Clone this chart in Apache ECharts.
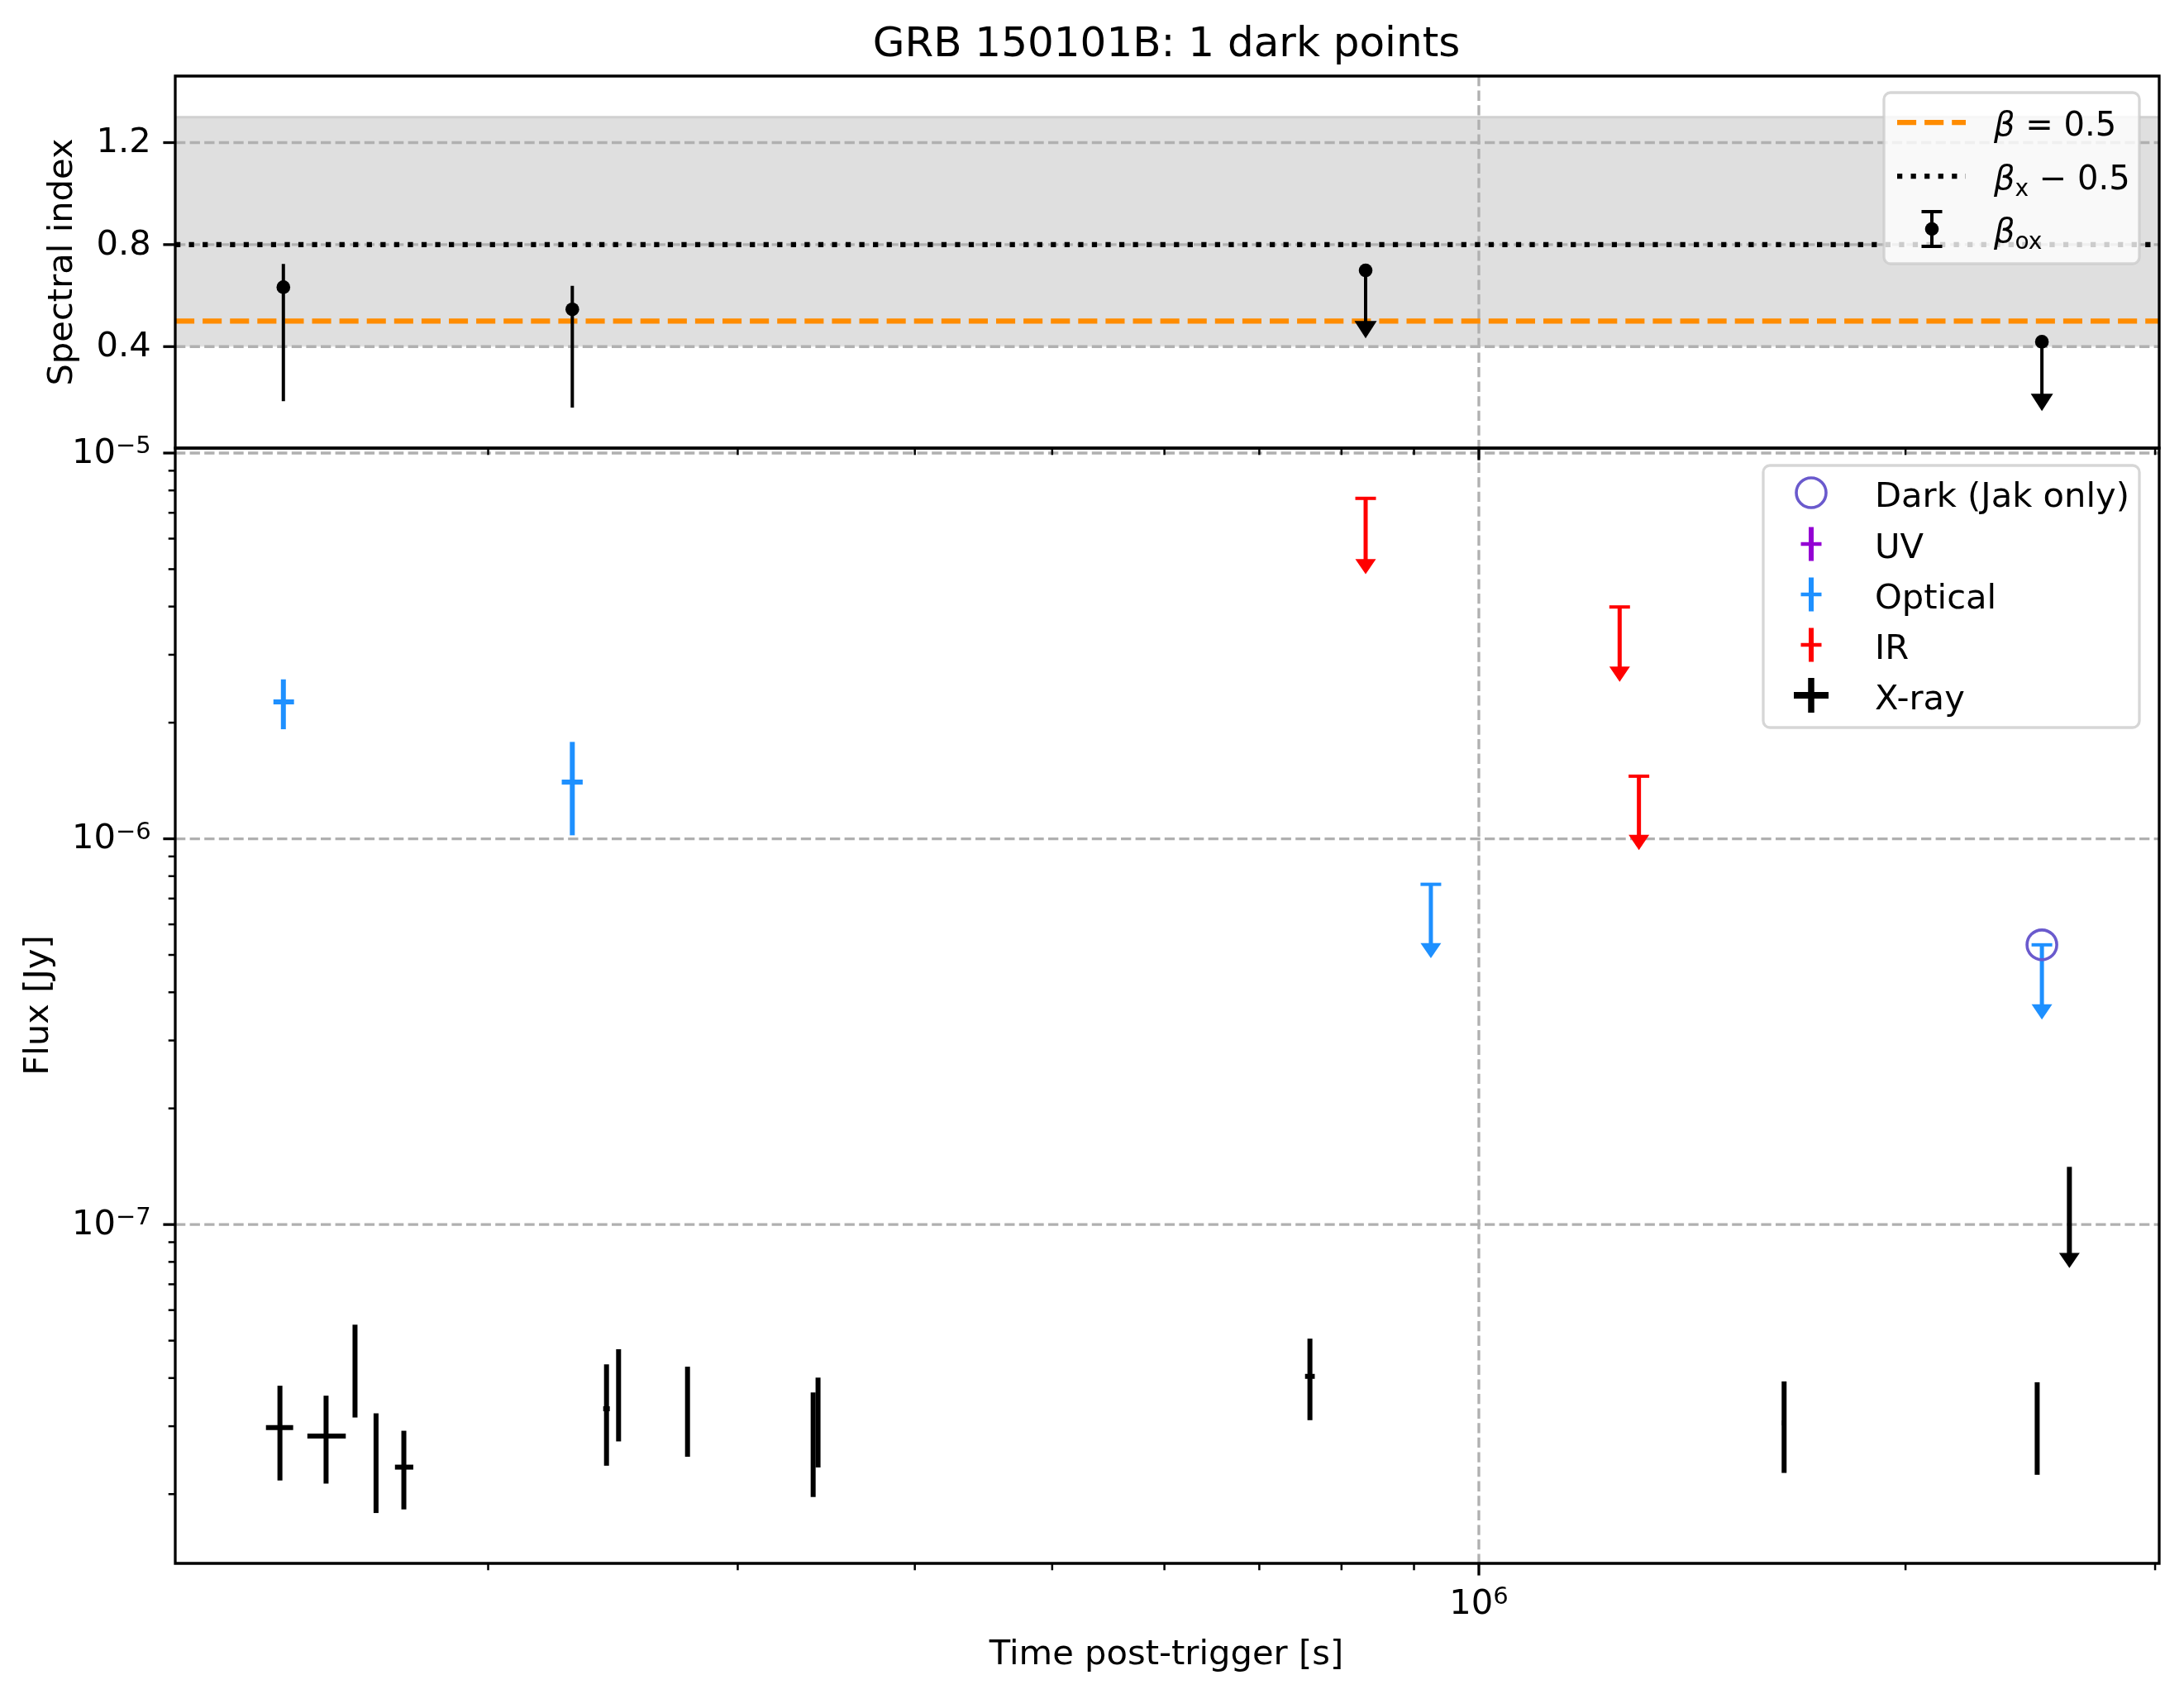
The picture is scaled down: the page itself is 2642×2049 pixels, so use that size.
<!DOCTYPE html>
<html><head><meta charset="utf-8">
<script src="https://cdn.jsdelivr.net/npm/echarts@6/dist/echarts.min.js"></script>
<style>html,body{margin:0;padding:0;background:#fff}#chart{width:2642px;height:2049px}</style>
</head><body><div id="chart"></div>
<script>
// ---------------- data ----------------
const titleText = 'GRB 150101B: 1 dark points';
const timeRange = [1.203e5, 3.02e6];
const spectralRange = [0.002, 1.461];
const fluxRange = [1.323e-8, 1.03e-5];

const timeMajorTicks = [1e6];
const timeTickBases = ['10'];
const timeTickExps = ['6'];
const timeMinorTicks = [2e5, 3e5, 4e5, 5e5, 6e5, 7e5, 8e5, 9e5, 2e6, 3e6];
const spectralTicks = [0.4, 0.8, 1.2];
const spectralTickLabels = ['0.4', '0.8', '1.2'];
const fluxMajorTicks = [1e-7, 1e-6, 1e-5];
const fluxTickBases = ['10', '10', '10'];
const fluxTickExps = ['\u22127', '\u22126', '\u22125'];
const fluxMinorTicks = [2e-8, 3e-8, 4e-8, 5e-8, 6e-8, 7e-8, 8e-8, 9e-8,
                        2e-7, 3e-7, 4e-7, 5e-7, 6e-7, 7e-7, 8e-7, 9e-7,
                        2e-6, 3e-6, 4e-6, 5e-6, 6e-6, 7e-6, 8e-6, 9e-6];

// spectral index panel
const betaRef = 0.5;
const betaXMinusHalf = 0.8;
const betaBand = [0.4, 1.3];
const betaOxTimes = [1.434e5, 2.293e5];
const betaOxValues = [0.633, 0.546];
const betaOxLower = [0.186, 0.161];
const betaOxUpper = [0.724, 0.638];
const betaOxLimTimes = [8.32e5, 2.496e6];
const betaOxLimValues = [0.699, 0.419];
const betaOxLimTips = [0.432, 0.147];

// flux panel: optical detections
const optTimes = [1.434e5, 2.293e5];
const optTimeLo = [1.411e5, 2.254e5];
const optTimeHi = [1.459e5, 2.332e5];
const optFlux = [2.264e-6, 1.403e-6];
const optFluxLo = [1.923e-6, 1.021e-6];
const optFluxHi = [2.59e-6, 1.783e-6];
// optical upper limits
const optLimTimes = [9.25e5, 2.496e6];
const optLimValues = [7.62e-7, 5.31e-7];
const optLimTips = [4.9e-7, 3.40e-7];
// IR upper limits
const irLimTimes = [8.32e5, 1.257e6, 1.297e6];
const irLimValues = [7.63e-6, 3.99e-6, 1.453e-6];
const irLimTips = [4.85e-6, 2.553e-6, 9.35e-7];
// X-ray detections
const xrTimes  = [1.426e5, 1.537e5, 1.611e5, 1.667e5, 1.744e5, 2.424e5, 2.472e5, 2.765e5, 3.391e5, 3.418e5, 7.60e5, 1.642e6, 2.477e6];
const xrTimeLo = [1.394e5, 1.491e5, 1.609e5, 1.664e5, 1.719e5, 2.411e5, 2.470e5, 2.763e5, 3.389e5, 3.410e5, 7.54e5, 1.636e6, 2.475e6];
const xrTimeHi = [1.457e5, 1.587e5, 1.613e5, 1.670e5, 1.771e5, 2.437e5, 2.474e5, 2.767e5, 3.393e5, 3.426e5, 7.66e5, 1.648e6, 2.479e6];
const xrFlux   = [2.975e-8, 2.83e-8, 4.0e-8, 2.49e-8, 2.35e-8, 3.33e-8, 3.6e-8, 3.27e-8, 2.7e-8, 3.16e-8, 4.04e-8, 3.06e-8, 2.96e-8];
const xrFluxLo = [2.17e-8, 2.13e-8, 3.16e-8, 1.787e-8, 1.826e-8, 2.37e-8, 2.74e-8, 2.50e-8, 1.966e-8, 2.345e-8, 3.11e-8, 2.27e-8, 2.245e-8];
const xrFluxHi = [3.82e-8, 3.60e-8, 5.50e-8, 3.24e-8, 2.92e-8, 4.34e-8, 4.75e-8, 4.28e-8, 3.67e-8, 4.01e-8, 5.06e-8, 3.92e-8, 3.90e-8];
// X-ray upper limit
const xrLimTimes = [2.61e6];
const xrLimValues = [1.411e-7];
const xrLimTips = [7.71e-8];
// dark point
const darkTimes = [2.496e6];
const darkFlux = [5.31e-7];

const legendBottomLabels = ['Dark (Jak only)', 'UV', 'Optical', 'IR', 'X-ray'];
const xAxisLabel = 'Time post-trigger [s]';
const fluxAxisLabel = 'Flux [Jy]';
const spectralAxisLabel = 'Spectral index';

// ---------------- styling ----------------
const FONT = 'DejaVu Sans';
const FS = 41.67;
const TY = 6; // text vertical nudge
const C_OPT = '#1E90FF', C_IR = '#FF0000', C_UV = '#9400D3', C_DARK = '#6A5ACD', C_ORANGE = '#FF8C00';
const GRID_STYLE = {stroke: '#b0b0b0', lineWidth: 3.3, lineDash: [12.3, 5.3]};
const TMAJ = 14.6, TMIN = 8.3, PAD = 14.6;

function ln(x1, y1, x2, y2, stroke, lw, dash) {
  return {type: 'line', shape: {x1, y1, x2, y2}, style: {stroke, lineWidth: lw, lineDash: dash || null, fill: null}};
}
const supRich = {
  b: {fontSize: FS, fontFamily: FONT, fill: '#000', lineHeight: 46},
  s: {fontSize: 29, fontFamily: FONT, fill: '#000', lineHeight: 22, verticalAlign: 'top'}
};
function txt(x, y, text, align, vAlign, rich) {
  const st = {text, fontSize: FS, fontFamily: FONT, fill: '#000', align, verticalAlign: vAlign};
  if (rich) st.rich = rich;
  return {type: 'text', x, y, style: st};
}

// ---- renderers ----
function errBarRenderer(color, lw) {
  return function (params, api) {
    const c = api.coord([api.value(0), api.value(1)]);
    const lo = api.coord([api.value(2), api.value(4)]);
    const hi = api.coord([api.value(3), api.value(5)]);
    return {type: 'group', children: [
      ln(c[0], hi[1], c[0], lo[1], color, lw),
      ln(lo[0], c[1], hi[0], c[1], color, lw)
    ]};
  };
}
function limitRenderer(color, lw, capHalf, aw, ah, dotR) {
  return function (params, api) {
    const top = api.coord([api.value(0), api.value(1)]);
    const tip = api.coord([api.value(0), api.value(2)]);
    const x = top[0];
    const ch = [ln(x, top[1], x, tip[1] - ah + 1, color, lw)];
    ch.push({type: 'polygon', shape: {points: [[x - aw / 2, tip[1] - ah], [x + aw / 2, tip[1] - ah], [x, tip[1]]]}, style: {fill: color}});
    if (capHalf) ch.push(ln(x - capHalf, top[1], x + capHalf, top[1], color, 4));
    if (dotR) ch.push({type: 'circle', shape: {cx: x, cy: top[1], r: dotR}, style: {fill: color}});
    return {type: 'group', children: ch};
  };
}
function betaDetRenderer(params, api) {
  const c = api.coord([api.value(0), api.value(1)]);
  const lo = api.coord([api.value(0), api.value(2)]);
  const hi = api.coord([api.value(0), api.value(3)]);
  return {type: 'group', children: [
    ln(c[0], hi[1], c[0], lo[1], '#000', 4),
    {type: 'circle', shape: {cx: c[0], cy: c[1], r: 8.3}, style: {fill: '#000'}}
  ]};
}
function hLineRenderer(style) {
  return function (params, api) {
    const cs = params.coordSys;
    const p = api.coord([api.value(0), api.value(1)]);
    return {type: 'line', shape: {x1: cs.x, y1: p[1], x2: cs.x + cs.width, y2: p[1]}, style: Object.assign({fill: null}, style)};
  };
}
function vLineRenderer(style) {
  return function (params, api) {
    const cs = params.coordSys;
    const p = api.coord([api.value(0), api.value(1)]);
    return {type: 'line', shape: {x1: p[0], y1: cs.y, x2: p[0], y2: cs.y + cs.height}, style: Object.assign({fill: null}, style)};
  };
}
function bandRenderer(params, api) {
  const cs = params.coordSys;
  const lo = api.coord([api.value(0), api.value(1)]);
  const hi = api.coord([api.value(0), api.value(2)]);
  return {type: 'group', children: [
    {type: 'rect', shape: {x: cs.x, y: hi[1], width: cs.width, height: lo[1] - hi[1]}, style: {fill: '#dfdfdf'}},
    ln(cs.x, hi[1], cs.x + cs.width, hi[1], '#d0d0d0', 3)
  ]};
}
function decorRenderer(yRef, yMajor, yMinor, yLabelFn, showXLabels) {
  return function (params, api) {
    const cs = params.coordSys;
    const bottom = cs.y + cs.height;
    const ch = [];
    timeMinorTicks.forEach(t => {
      const x = api.coord([t, yRef])[0];
      ch.push(ln(x, bottom, x, bottom + TMIN, '#000', 2.5));
    });
    timeMajorTicks.forEach((t, i) => {
      const x = api.coord([t, yRef])[0];
      ch.push(ln(x, bottom, x, bottom + TMAJ, '#000', 3.3));
      if (showXLabels) ch.push(txt(x, bottom + 50, '{b|' + timeTickBases[i] + '}{s|' + timeTickExps[i] + '}', 'center', 'middle', supRich));
    });
    yMinor.forEach(v => {
      const y = api.coord([1e6, v])[1];
      ch.push(ln(cs.x - TMIN, y, cs.x, y, '#000', 2.5));
    });
    yMajor.forEach((v, i) => {
      const y = api.coord([1e6, v])[1];
      ch.push(ln(cs.x - TMAJ, y, cs.x, y, '#000', 3.3));
      const lab = yLabelFn(i);
      ch.push(txt(cs.x - TMAJ - PAD, y + 1, lab.text, 'right', 'middle', lab.rich));
    });
    ch.push({type: 'rect', shape: {x: cs.x, y: cs.y, width: cs.width, height: cs.height}, style: {fill: null, stroke: '#000', lineWidth: 3.3}});
    return {type: 'group', children: ch};
  };
}

// ---------------- series ----------------
const series = [];
const T = (xi, yi) => ({xAxisIndex: xi, yAxisIndex: yi, coordinateSystem: 'cartesian2d', type: 'custom', silent: true});

// top panel
series.push(Object.assign(T(0, 0), {z: 1, data: [[1e6, betaBand[0], betaBand[1]]], renderItem: bandRenderer}));
series.push(Object.assign(T(0, 0), {z: 2, data: spectralTicks.map(v => [1e6, v]), renderItem: hLineRenderer(GRID_STYLE)}));
series.push(Object.assign(T(0, 0), {z: 2, data: timeMajorTicks.map(t => [t, 0.8]), renderItem: vLineRenderer(GRID_STYLE)}));
series.push(Object.assign(T(0, 0), {z: 3, data: [[1e6, betaRef]], renderItem: hLineRenderer({stroke: C_ORANGE, lineWidth: 6.25, lineDash: [23.1, 10]})}));
series.push(Object.assign(T(0, 0), {z: 3, data: [[1e6, betaXMinusHalf]], renderItem: hLineRenderer({stroke: '#000', lineWidth: 6.25, lineDash: [6.25, 10.3]})}));
series.push(Object.assign(T(0, 0), {z: 4, data: betaOxTimes.map((t, i) => [t, betaOxValues[i], betaOxLower[i], betaOxUpper[i]]), renderItem: betaDetRenderer}));
series.push(Object.assign(T(0, 0), {z: 4, data: betaOxLimTimes.map((t, i) => [t, betaOxLimValues[i], betaOxLimTips[i]]), renderItem: limitRenderer('#000', 4, 0, 27, 21, 8.3)}));
series.push(Object.assign(T(0, 0), {z: 6, data: [[1e6, 0.8]], renderItem: decorRenderer(0.8, spectralTicks, [], i => ({text: spectralTickLabels[i]}), false)}));

// bottom panel
series.push(Object.assign(T(1, 1), {z: 2, data: fluxMajorTicks.map(v => [1e6, v]), renderItem: hLineRenderer(GRID_STYLE)}));
series.push(Object.assign(T(1, 1), {z: 2, data: timeMajorTicks.map(t => [t, 1e-6]), renderItem: vLineRenderer(GRID_STYLE)}));
series.push(Object.assign(T(1, 1), {z: 4, data: xrTimes.map((t, i) => [t, xrFlux[i], xrTimeLo[i], xrTimeHi[i], xrFluxLo[i], xrFluxHi[i]]), renderItem: errBarRenderer('#000', 6)}));
series.push(Object.assign(T(1, 1), {z: 4, data: xrLimTimes.map((t, i) => [t, xrLimValues[i], xrLimTips[i]]), renderItem: limitRenderer('#000', 6, 0, 25, 18.4, 0)}));
series.push(Object.assign(T(1, 1), {z: 4, data: optTimes.map((t, i) => [t, optFlux[i], optTimeLo[i], optTimeHi[i], optFluxLo[i], optFluxHi[i]]), renderItem: errBarRenderer(C_OPT, 6)}));
series.push(Object.assign(T(1, 1), {z: 4, data: optLimTimes.map((t, i) => [t, optLimValues[i], optLimTips[i]]), renderItem: limitRenderer(C_OPT, 5, 12.5, 25, 18.4, 0)}));
series.push(Object.assign(T(1, 1), {z: 4, data: irLimTimes.map((t, i) => [t, irLimValues[i], irLimTips[i]]), renderItem: limitRenderer(C_IR, 5, 12.5, 25, 18.4, 0)}));
series.push(Object.assign(T(1, 1), {z: 5, data: darkTimes.map((t, i) => [t, darkFlux[i]]), renderItem: function (params, api) {
  const c = api.coord([api.value(0), api.value(1)]);
  return {type: 'circle', shape: {cx: c[0], cy: c[1], r: 18}, style: {fill: null, stroke: C_DARK, lineWidth: 3.6}};
}}));
series.push(Object.assign(T(1, 1), {z: 6, data: [[1e6, 1e-6]], renderItem: decorRenderer(1e-6, fluxMajorTicks, fluxMinorTicks, i => ({text: '{b|' + fluxTickBases[i] + '}{s|' + fluxTickExps[i] + '}', rich: supRich}), true)}));

// ---------------- legends & labels (graphic) ----------------
const LFS = 40;
const subRich = {
  i: {fontSize: LFS, fontFamily: FONT, fontStyle: 'italic', fill: '#000', lineHeight: 50},
  n: {fontSize: LFS, fontFamily: FONT, fill: '#000', lineHeight: 50},
  u: {fontSize: 28, fontFamily: FONT, fill: '#000', lineHeight: 28, verticalAlign: 'bottom'}
};
const topLegendRich = ['{i|\u03b2}{n| = 0.5}', '{i|\u03b2}{u|x}{n| \u2212 0.5}', '{i|\u03b2}{u|ox}'];
const graphic = [];
graphic.push({type: 'rect', z: 100, shape: {x: 2279, y: 112, width: 309, height: 207, r: 8}, style: {fill: 'rgba(255,255,255,0.8)', stroke: 'rgba(204,204,204,0.8)', lineWidth: 3.3}});
graphic.push({type: 'line', z: 101, shape: {x1: 2295, y1: 148, x2: 2378, y2: 148}, style: {stroke: C_ORANGE, lineWidth: 6.25, lineDash: [23.1, 10]}});
graphic.push({type: 'line', z: 101, shape: {x1: 2295, y1: 213, x2: 2378, y2: 213}, style: {stroke: '#000', lineWidth: 6.25, lineDash: [6.25, 10.3]}});
graphic.push({type: 'line', z: 101, shape: {x1: 2337, y1: 256, x2: 2337, y2: 298}, style: {stroke: '#000', lineWidth: 4}});
graphic.push({type: 'line', z: 101, shape: {x1: 2324.5, y1: 256, x2: 2349.5, y2: 256}, style: {stroke: '#000', lineWidth: 4}});
graphic.push({type: 'line', z: 101, shape: {x1: 2324.5, y1: 298, x2: 2349.5, y2: 298}, style: {stroke: '#000', lineWidth: 4}});
graphic.push({type: 'circle', z: 101, shape: {cx: 2337, cy: 277, r: 8.3}, style: {fill: '#000'}});
[148, 213, 277].forEach((y, i) => {
  graphic.push({type: 'text', z: 101, x: 2412, y: y + TY, style: {text: topLegendRich[i], rich: subRich, fontSize: LFS, fontFamily: FONT, fill: '#000', align: 'left', verticalAlign: 'middle'}});
});

graphic.push({type: 'rect', z: 100, shape: {x: 2133, y: 563, width: 455, height: 317, r: 8}, style: {fill: 'rgba(255,255,255,0.8)', stroke: 'rgba(204,204,204,0.8)', lineWidth: 3.3}});
const rowY = [596, 658, 719, 780, 841];
const hx = 2191;
graphic.push({type: 'circle', z: 101, shape: {cx: hx, cy: rowY[0], r: 18}, style: {fill: null, stroke: C_DARK, lineWidth: 3.6}});
[[C_UV, 1], [C_OPT, 2], [C_IR, 3]].forEach(([c, k]) => {
  graphic.push({type: 'line', z: 101, shape: {x1: hx, y1: rowY[k] - 20.5, x2: hx, y2: rowY[k] + 20.5}, style: {stroke: c, lineWidth: 6}});
  graphic.push({type: 'line', z: 101, shape: {x1: hx - 12.5, y1: rowY[k], x2: hx + 12.5, y2: rowY[k]}, style: {stroke: c, lineWidth: 4.5}});
});
graphic.push({type: 'line', z: 101, shape: {x1: hx, y1: rowY[4] - 21, x2: hx, y2: rowY[4] + 21}, style: {stroke: '#000', lineWidth: 7.5}});
graphic.push({type: 'line', z: 101, shape: {x1: hx - 21, y1: rowY[4], x2: hx + 21, y2: rowY[4]}, style: {stroke: '#000', lineWidth: 8}});
legendBottomLabels.forEach((s, i) => {
  graphic.push({type: 'text', z: 101, x: 2268, y: rowY[i] + TY, style: {text: s, fontSize: FS, fontFamily: FONT, fill: '#000', align: 'left', verticalAlign: 'middle'}});
});

graphic.push({type: 'text', z: 101, x: 1411, y: 55, style: {text: titleText, fontSize: 50, fontFamily: FONT, fill: '#000', align: 'center', verticalAlign: 'middle'}});
graphic.push({type: 'text', z: 101, x: 1411, y: 2002, style: {text: xAxisLabel, fontSize: FS, fontFamily: FONT, fill: '#000', align: 'center', verticalAlign: 'middle'}});
graphic.push({type: 'text', z: 101, x: 47, y: 1216, rotation: Math.PI / 2, style: {text: fluxAxisLabel, fontSize: FS, fontFamily: FONT, fill: '#000', align: 'center', verticalAlign: 'middle'}});
graphic.push({type: 'text', z: 101, x: 76, y: 317, rotation: Math.PI / 2, style: {text: spectralAxisLabel, fontSize: FS, fontFamily: FONT, fill: '#000', align: 'center', verticalAlign: 'middle'}});

// ---------------- option ----------------
const hiddenAxis = {show: false, axisLine: {show: false}, axisTick: {show: false}, axisLabel: {show: false}, splitLine: {show: false}};
const option = {
  animation: false,
  backgroundColor: '#fff',
  grid: [
    {left: 212, top: 92, width: 2400, height: 450, show: false},
    {left: 212, top: 542, width: 2400, height: 1349, show: false}
  ],
  xAxis: [
    Object.assign({type: 'log', logBase: 10, gridIndex: 0, min: timeRange[0], max: timeRange[1]}, hiddenAxis),
    Object.assign({type: 'log', logBase: 10, gridIndex: 1, min: timeRange[0], max: timeRange[1]}, hiddenAxis)
  ],
  yAxis: [
    Object.assign({type: 'value', gridIndex: 0, min: spectralRange[0], max: spectralRange[1]}, hiddenAxis),
    Object.assign({type: 'log', logBase: 10, gridIndex: 1, min: fluxRange[0], max: fluxRange[1]}, hiddenAxis)
  ],
  series: series,
  graphic: graphic
};
const chart = echarts.init(document.getElementById('chart'), null, {renderer: 'canvas'});
chart.setOption(option);
</script></body></html>
